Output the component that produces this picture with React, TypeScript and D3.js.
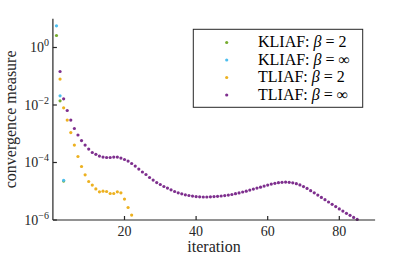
import React from 'react';
import * as d3 from 'd3';

// values (convergence measure per iteration)
const kliaf2Start = 1;
const kliaf2 = [2.61, 1.4e-2, 2.25e-5];

const kliafInfStart = 1;
const kliafInf = [5.69, 2.09e-2, 2.4e-5];

const tliaf2Start = 2;
const tliaf2 = [
  7.96e-2, 8.0e-3, 2.99e-3, 1.1e-3, 4.03e-4, 1.62e-4, 7.26e-5, 3.73e-5, 2.18e-5, 1.64e-5,
  1.2e-5, 9.57e-6, 1.01e-5, 9.8e-6, 8.35e-6, 8.35e-6, 9.57e-6, 8.83e-6, 5.33e-6, 2.72e-6,
  1.48e-6,
];

const tliafInfStart = 2;
const tliafInf = [
  1.46e-1, 1.64e-2, 6.44e-3, 2.99e-3, 1.52e-3, 9.05e-4, 5.78e-4, 4.03e-4, 2.92e-4, 2.23e-4,
  1.93e-4, 1.67e-4, 1.54e-4, 1.49e-4, 1.49e-4, 1.54e-4, 1.54e-4, 1.42e-4, 1.27e-4, 1.12e-4,
  9.23e-5, 7.5e-5, 5.89e-5, 4.67e-5, 3.83e-5, 3.01e-5, 2.44e-5, 2.01e-5, 1.72e-5, 1.46e-5,
  1.29e-5, 1.12e-5, 9.8e-6, 8.83e-6, 8.15e-6, 7.53e-6, 7.12e-6, 6.78e-6, 6.52e-6, 6.41e-6,
  6.31e-6, 6.31e-6, 6.41e-6, 6.52e-6, 6.67e-6, 6.84e-6, 7.06e-6, 7.35e-6, 7.71e-6, 8.22e-6,
  8.77e-6, 9.42e-6, 1.01e-5, 1.1e-5, 1.19e-5, 1.29e-5, 1.39e-5, 1.51e-5, 1.64e-5, 1.77e-5,
  1.89e-5, 1.98e-5, 2.05e-5, 2.08e-5, 2.05e-5, 1.97e-5, 1.83e-5, 1.66e-5, 1.45e-5, 1.25e-5,
  1.05e-5, 8.83e-6, 7.35e-6, 6.11e-6, 5.08e-6, 4.23e-6, 3.52e-6, 2.92e-6, 2.43e-6, 2.04e-6,
  1.71e-6, 1.45e-6, 1.23e-6, 1.05e-6,
];

const xTicks = [20, 40, 60, 80];
const yTickExps = [0, -2, -4, -6];

const series = [
  { name: 'KLIAF', beta: '2', start: kliaf2Start, values: kliaf2, color: '#77AC30' },
  { name: 'KLIAF', beta: '\u221E', start: kliafInfStart, values: kliafInf, color: '#4DBEEE' },
  { name: 'TLIAF', beta: '2', start: tliaf2Start, values: tliaf2, color: '#EDB120' },
  { name: 'TLIAF', beta: '\u221E', start: tliafInfStart, values: tliafInf, color: '#7E2F8E' },
];

const axisColor = '#262626';
const font = '"Liberation Serif", "DejaVu Serif", serif';

export default function App() {
  const x = d3.scaleLinear().domain([0, 90]).range([52.9, 375.1]);
  const y = d3.scaleLog().domain([1e-6, 10]).range([220, 18.75]);
  const [x0, x1] = x.range();
  const [y0, y1] = y.range();

  return (
    <svg
      width={415}
      height={260}
      style={{ position: 'absolute', left: 0, top: 0, background: '#fff' }}
      fontFamily={font}
    >
      {/* points */}
      {series.map((s, si) => (
        <g key={si} fill={s.color}>
          {s.values.map((v, i) => (
            <circle key={i} cx={x(s.start + i)} cy={y(v)} r={1.6} />
          ))}
        </g>
      ))}

      {/* axes */}
      <g stroke={axisColor} strokeWidth={1.2} fill="none">
        <line x1={x0} y1={y0} x2={x1} y2={y0} />
        <line x1={x0} y1={y0} x2={x0} y2={y1} />
        {xTicks.map((t) => (
          <line key={t} x1={x(t)} x2={x(t)} y1={y0} y2={y0 - 4} />
        ))}
        {yTickExps.map((e) => (
          <line key={e} x1={x0} x2={x0 + 4} y1={y(Math.pow(10, e))} y2={y(Math.pow(10, e))} />
        ))}
      </g>

      <g fill={axisColor} fontSize={14}>
        {xTicks.map((t) => (
          <text key={t} x={x(t)} y={236} textAnchor="middle">
            {t}
          </text>
        ))}
        {yTickExps.map((e) => (
          <text key={e} x={49} y={y(Math.pow(10, e)) + 4.6} textAnchor="end">
            10
            <tspan dy={-6} fontSize={10}>
              {e < 0 ? '\u2212' + -e : e}
            </tspan>
          </text>
        ))}
      </g>

      <text x={214} y={252} textAnchor="middle" fontSize={16} fill={axisColor}>
        iteration
      </text>
      <text
        transform={`translate(15.5,${(y0 + y1) / 2}) rotate(-90)`}
        textAnchor="middle"
        fontSize={16}
        fill={axisColor}
      >
        convergence measure
      </text>

      {/* legend */}
      <rect x={193.3} y={29.3} width={169.4} height={78} fill="#fff" stroke={axisColor} strokeWidth={1} />
      {series.map((s, i) => {
        const by = 47 + i * 17.5;
        return (
          <g key={i}>
            <circle cx={226.7} cy={by - 4.5} r={1.6} fill={s.color} />
            <text x={258} y={by} fontSize={16} fill="#000">
              {s.name}:{' '}
              <tspan fontStyle="italic">{'\u03B2'}</tspan>
              {' = '}
              {s.beta}
            </text>
          </g>
        );
      })}
    </svg>
  );
}
